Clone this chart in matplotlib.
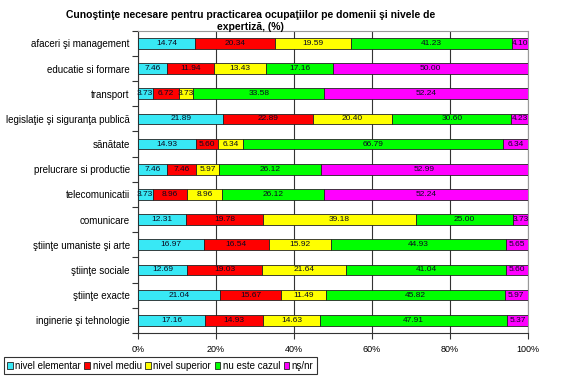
import matplotlib
matplotlib.use("Agg")
import matplotlib.pyplot as plt
import numpy as np

plt.rcParams['font.family'] = ['Liberation Sans', 'DejaVu Sans']

# categories, top to bottom as in the picture
categories = ["afaceri şi management", "educatie si formare", "transport",
              "legislaţie şi siguranţa publică", "sănătate", "prelucrare si productie",
              "telecomunicatii", "comunicare", "ştiinţe umaniste şi arte",
              "ştiinţe sociale", "ştiinţe exacte", "inginerie şi tehnologie"]

series_names = ["nivel elementar", "nivel mediu", "nivel superior", "nu este cazul", "nş/nr"]

nivel_elementar = [14.74, 7.46, 3.73, 21.89, 14.93, 7.46, 3.73, 12.31, 16.97, 12.69, 21.04, 17.16]
nivel_mediu     = [20.34, 11.94, 6.72, 22.89, 5.60, 7.46, 8.96, 19.78, 16.54, 19.03, 15.67, 14.93]
nivel_superior  = [19.59, 13.43, 3.73, 20.40, 6.34, 5.97, 8.96, 39.18, 15.92, 21.64, 11.49, 14.63]
nu_este_cazul   = [41.23, 17.16, 33.58, 30.60, 66.79, 26.12, 26.12, 25.00, 44.93, 41.04, 45.82, 47.91]
ns_nr           = [4.10, 50.00, 52.24, 4.23, 6.34, 52.99, 52.24, 3.73, 5.65, 5.60, 5.97, 5.37]

colors = ["#38E8F5", "#FF0000", "#FFFF00", "#00FF00", "#FF00FF"]

data = np.array([nivel_elementar, nivel_mediu, nivel_superior, nu_este_cazul, ns_nr])

fig = plt.figure(figsize=(5.75, 3.8), dpi=100)
ax = fig.add_axes([0.24, 0.124, 0.678, 0.795])

y = np.arange(len(categories))
left = np.zeros(len(categories))
for i in range(5):
    ax.barh(y, data[i], left=left, height=0.42, color=colors[i],
            edgecolor="#222222", linewidth=0.6, label=series_names[i], zorder=3)
    for j in range(len(categories)):
        ax.text(left[j] + data[i][j] / 2, y[j], "%.2f" % data[i][j],
                ha="center", va="center", fontsize=6, color="#0A0A20", zorder=4)
    left = left + data[i]

ax.set_xlim(0, 100)
ax.set_ylim(len(categories) - 0.5, -0.5)
ax.set_xticks([0, 20, 40, 60, 80, 100])
ax.set_xticklabels(["0%", "20%", "40%", "60%", "80%", "100%"], fontsize=6.5)
ax.set_yticks(y)
ax.set_yticklabels(categories, fontsize=7)
ax.set_yticks(np.arange(-0.5, len(categories), 1), minor=True)
ax.tick_params(axis="y", which="major", length=0, pad=6)
ax.tick_params(axis="y", which="minor", length=4, width=0.8, color="#333333")
ax.tick_params(axis="x", length=4, width=0.8, color="#333333", pad=5)
ax.xaxis.grid(True, color="#333333", linewidth=0.8, zorder=0)
for s in ["top", "right"]:
    ax.spines[s].set_color("#999999")
for s in ["left", "bottom"]:
    ax.spines[s].set_color("#333333")

fig.text(0.435, 0.975, "Cunoştinţe necesare pentru practicarea ocupaţiilor pe domenii şi nivele de\nexpertiză, (%)",
         ha="center", va="top", fontsize=7.5, fontweight="bold", linespacing=1.3)

leg = fig.legend(loc="lower left", bbox_to_anchor=(0.003, 0.01), ncol=5, fontsize=7,
                 handlelength=0.6, handleheight=0.6, handletextpad=0.25, columnspacing=0.35,
                 frameon=True, fancybox=False, edgecolor="black", borderpad=0.35,
                 borderaxespad=0.2)
leg.get_frame().set_linewidth(0.8)

plt.savefig("out.png", dpi=100)
